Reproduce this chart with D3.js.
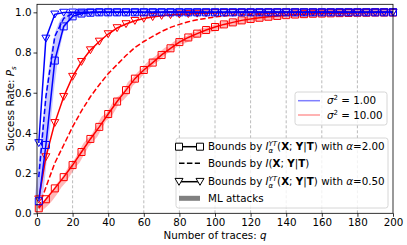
<!DOCTYPE html>
<html lang="en">
<head>
<meta charset="UTF-8">
<script src="https://d3js.org/d3.v7.min.js"></script>
<style>
  body { margin: 0; background: #fff; }
  svg { font-family: "DejaVu Sans", sans-serif; }
</style>
</head>
<body>
<div id="chart"></div>
<script>
// number of traces where the bound curves are sampled
const traces = [1, 5, 10, 15, 20, 25, 30, 35, 40, 45, 50, 55, 60, 65, 70, 75, 80, 85, 90, 95, 100,
  105, 110, 115, 120, 125, 130, 135, 140, 145, 150, 155, 160, 165, 170, 175, 180, 185, 190, 195, 200];
// the ML attack runs are sampled more finely
const mlTraces = [1, 2.5, 5, 7.5, 10, 12.5, 15, 17.5, 20, 22.5, 25, 27.5, 30, 32.5, 35, 37.5, 40, 42.5,
  45, 47.5, 50, 52.5, 55, 57.5, 60, 62.5, 65, 67.5, 70, 72.5, 75, 77.5, 80, 82.5, 85, 87.5, 90, 92.5,
  95, 97.5, 100, 105, 110, 115, 120, 125, 130, 135, 140, 145, 150, 155, 160, 165, 170, 175, 180, 185,
  190, 195, 200];

// sigma^2 = 1.00 (blue)
const blueAlpha2 = [0.06, 0.34, 0.76, 0.93, 0.98, 0.994, 0.998, 1, 1, 1, 1, 1, 1, 1, 1, 1, 1, 1, 1, 1, 1,
  1, 1, 1, 1, 1, 1, 1, 1, 1, 1, 1, 1, 1, 1, 1, 1, 1, 1, 1, 1];
const blueMI = [0.18, 0.58, 0.88, 0.97, 0.994, 0.999, 1, 1, 1, 1, 1, 1, 1, 1, 1, 1, 1, 1, 1, 1, 1,
  1, 1, 1, 1, 1, 1, 1, 1, 1, 1, 1, 1, 1, 1, 1, 1, 1, 1, 1, 1];
const blueAlpha05 = [0.35, 0.87, 0.99, 0.999, 1, 1, 1, 1, 1, 1, 1, 1, 1, 1, 1, 1, 1, 1, 1, 1, 1,
  1, 1, 1, 1, 1, 1, 1, 1, 1, 1, 1, 1, 1, 1, 1, 1, 1, 1, 1, 1];
const blueML = [0.08, 0.2, 0.42, 0.63, 0.8, 0.9, 0.955, 0.975, 0.988, 0.994, 0.997, 0.999, 1, 1, 1, 1,
  1, 1, 1, 1, 1, 1, 1, 1, 1, 1, 1, 1, 1, 1, 1, 1, 1, 1, 1, 1, 1, 1, 1, 1, 1, 1, 1, 1, 1, 1, 1, 1, 1,
  1, 1, 1, 1, 1, 1, 1, 1, 1, 1, 1, 1];

// sigma^2 = 10.00 (red)
const redAlpha2 = [0.025, 0.07, 0.124, 0.18, 0.24, 0.305, 0.37, 0.43, 0.494, 0.556, 0.613, 0.67, 0.713,
  0.75, 0.788, 0.821, 0.852, 0.875, 0.894, 0.912, 0.927, 0.94, 0.95, 0.96, 0.967, 0.973, 0.978, 0.982,
  0.986, 0.989, 0.991, 0.993, 0.994, 0.995, 0.996, 0.997, 0.998, 0.998, 0.999, 0.999, 0.999];
const redMI = [0.03, 0.13, 0.25, 0.34, 0.43, 0.51, 0.58, 0.64, 0.695, 0.74, 0.785, 0.825, 0.855, 0.88,
  0.905, 0.925, 0.94, 0.953, 0.963, 0.97, 0.977, 0.982, 0.986, 0.989, 0.991, 0.993, 0.995, 0.996,
  0.997, 0.998, 0.998, 0.999, 0.999, 0.999, 1, 1, 1, 1, 1, 1, 1];
const redAlpha05 = [0.07, 0.28, 0.45, 0.58, 0.68, 0.754, 0.812, 0.855, 0.892, 0.922, 0.942, 0.958, 0.969,
  0.977, 0.983, 0.987, 0.99, 0.992, 0.994, 0.996, 0.997, 0.998, 0.998, 0.999, 0.999, 0.999, 1, 1, 1,
  1, 1, 1, 1, 1, 1, 1, 1, 1, 1, 1, 1];
const redML = [0.02, 0.03, 0.05, 0.075, 0.105, 0.14, 0.165, 0.2, 0.235, 0.26, 0.3, 0.34, 0.365, 0.39,
  0.43, 0.47, 0.485, 0.52, 0.56, 0.575, 0.6, 0.645, 0.665, 0.69, 0.71, 0.735, 0.755, 0.77, 0.79, 0.81,
  0.82, 0.84, 0.855, 0.86, 0.87, 0.885, 0.89, 0.905, 0.91, 0.915, 0.925, 0.94, 0.948, 0.958, 0.965,
  0.972, 0.977, 0.98, 0.986, 0.988, 0.99, 0.993, 0.994, 0.995, 0.997, 0.997, 0.998, 0.999, 0.999, 1, 1];

const xTicks = [0, 20, 40, 60, 80, 100, 120, 140, 160, 180, 200];
const yTicks = [0, 0.2, 0.4, 0.6, 0.8, 1.0];

const fs = 10.3;
const width = 407, height = 245;
const svg = d3.select("#chart").append("svg")
  .attr("width", width)
  .attr("height", height);

const x = d3.scaleLinear().domain([0, 200]).range([37, 393]);
const y = d3.scaleLinear().domain([0, 1.04]).range([213.3, 4.3]);

// vertical grid
svg.append("g")
  .selectAll("line")
  .data(xTicks.slice(1, -1))
  .join("line")
  .attr("x1", d => x(d)).attr("x2", d => x(d))
  .attr("y1", y(0)).attr("y2", y(1.04))
  .attr("stroke", "#a8a8a8")
  .attr("stroke-width", 0.8)
  .attr("stroke-dasharray", "3,2");

const line = (vals, qs) => d3.line()
  .x((d, i) => x(qs[i]))
  .y(d => y(d))(vals);

const plot = svg.append("g");

// ML attacks (thick translucent bands)
plot.append("path").attr("d", line(redML, mlTraces))
  .attr("fill", "none").attr("stroke", "#ff0000").attr("stroke-opacity", 0.28)
  .attr("stroke-width", 6).attr("stroke-linejoin", "round");
plot.append("path").attr("d", line(blueML, mlTraces))
  .attr("fill", "none").attr("stroke", "#0000ff").attr("stroke-opacity", 0.22)
  .attr("stroke-width", 8).attr("stroke-linejoin", "round");

function drawSeries(vals, color, dash, marker) {
  plot.append("path").attr("d", line(vals, traces))
    .attr("fill", "none").attr("stroke", color).attr("stroke-width", 1.5)
    .attr("stroke-dasharray", dash ? "5.5,2.4" : null);
  if (!marker) return;
  plot.append("g").selectAll("path")
    .data(vals)
    .join("path")
    .attr("transform", (d, i) => `translate(${x(traces[i])},${y(d)})`)
    .attr("d", marker === "square" ? "M-3.5,-3.5H3.5V3.5H-3.5Z" : "M-4,-3.3H4L0,3.6Z")
    .attr("fill", "none")
    .attr("stroke", color)
    .attr("stroke-width", 1);
}

drawSeries(redMI, "#ff0000", true);
drawSeries(redAlpha2, "#ff0000", false, "square");
drawSeries(redAlpha05, "#ff0000", false, "tri");
drawSeries(blueMI, "#0000ff", true);
drawSeries(blueAlpha2, "#0000ff", false, "square");
drawSeries(blueAlpha05, "#0000ff", false, "tri");

// axes
const xAxis = svg.append("g")
  .attr("transform", `translate(0,${y(0)})`)
  .call(d3.axisBottom(x).tickValues(xTicks).tickSize(3.5).tickPadding(2).tickFormat(d3.format("d")));
const yAxis = svg.append("g")
  .attr("transform", `translate(${x(0)},0)`)
  .call(d3.axisLeft(y).tickValues(yTicks).tickSize(3.5).tickPadding(2).tickFormat(d3.format(".1f")));
[xAxis, yAxis].forEach(a => {
  a.select(".domain").remove();
  a.selectAll("text").attr("font-size", fs).attr("fill", "#000").attr("font-family", "DejaVu Sans");
  a.selectAll("line").attr("stroke", "#000").attr("stroke-width", 0.8);
});

svg.append("rect")
  .attr("x", x(0)).attr("y", y(1.04))
  .attr("width", x(200) - x(0)).attr("height", y(0) - y(1.04))
  .attr("fill", "none").attr("stroke", "#000").attr("stroke-width", 0.8);

// axis labels
const xl = svg.append("text")
  .attr("x", (x(0) + x(200)) / 2).attr("y", 239)
  .attr("text-anchor", "middle").attr("font-size", fs);
xl.append("tspan").text("Number of traces: ");
xl.append("tspan").attr("font-style", "italic").text("q");

const yl = svg.append("text")
  .attr("transform", `translate(14,${(y(0) + y(1.04)) / 2}) rotate(-90)`)
  .attr("text-anchor", "middle").attr("font-size", fs);
yl.append("tspan").text("Success Rate: ");
yl.append("tspan").attr("font-style", "italic").text("P");
yl.append("tspan").attr("font-style", "italic").attr("font-size", 7).attr("dy", 2).text("s");

// legend: noise levels
const leg1 = svg.append("g");
leg1.append("rect")
  .attr("x", 295).attr("y", 92).attr("width", 92).attr("height", 33).attr("rx", 2.5)
  .attr("fill", "#fff").attr("fill-opacity", 0.8).attr("stroke", "#cccccc").attr("stroke-width", 0.8);
const sigmaRows = [["1.00", "#0000ff", 0.5, 100.7], ["10.00", "#ff0000", 0.4, 115]];
sigmaRows.forEach(([lab, color, op, yy]) => {
  leg1.append("line").attr("x1", 298).attr("x2", 320).attr("y1", yy).attr("y2", yy)
    .attr("stroke", color).attr("stroke-opacity", op).attr("stroke-width", 1.5);
  const t = leg1.append("text").attr("x", 327).attr("y", yy + 3.5).attr("font-size", fs);
  t.append("tspan").attr("font-style", "italic").text("σ");
  t.append("tspan").attr("font-size", 7).attr("dy", -4).text("2");
  t.append("tspan").attr("dy", 4).text(" = " + lab);
});

// legend: bound types
const leg2 = svg.append("g");
leg2.append("rect")
  .attr("x", 176).attr("y", 138).attr("width", 212).attr("height", 70).attr("rx", 2.5)
  .attr("fill", "#fff").attr("fill-opacity", 0.8).attr("stroke", "#cccccc").attr("stroke-width", 0.8);

function mathLabel(t, renyi, alphaTxt) {
  t.append("tspan").text("Bounds by ");
  t.append("tspan").attr("font-style", "italic").text("I");
  if (renyi) {
    const sup = t.append("tspan").attr("font-style", "italic").attr("font-size", 7).attr("dy", -4).text("YT");
    const w = sup.node().getComputedTextLength();
    const sub = t.append("tspan").attr("font-style", "italic").attr("font-size", 7)
      .attr("dx", -w).attr("dy", 6.5).text("α");
    const w2 = sub.node().getComputedTextLength();
    t.append("tspan").attr("dx", Math.max(0, w - w2)).attr("dy", -2.5).text("(");
  } else {
    t.append("tspan").text("(");
  }
  t.append("tspan").attr("font-weight", "bold").text("X");
  t.append("tspan").text("; ");
  t.append("tspan").attr("font-weight", "bold").text("Y");
  t.append("tspan").text("|");
  t.append("tspan").attr("font-weight", "bold").text("T");
  t.append("tspan").text(")");
  if (renyi) {
    t.append("tspan").text(" with ");
    t.append("tspan").attr("font-style", "italic").text("α");
    t.append("tspan").text("=" + alphaTxt);
  }
}

const rows = [
  { y: 146.7, kind: "square", renyi: true, alpha: "2.00" },
  { y: 163.3, kind: "dash", renyi: false },
  { y: 181.7, kind: "tri", renyi: true, alpha: "0.50" },
  { y: 198.3, kind: "ml" }
];
rows.forEach(r => {
  if (r.kind === "ml") {
    leg2.append("line").attr("x1", 179).attr("x2", 200).attr("y1", r.y).attr("y2", r.y)
      .attr("stroke", "#808080").attr("stroke-width", 5);
    leg2.append("text").attr("x", 208).attr("y", r.y + 3.5).attr("font-size", fs).text("ML attacks");
    return;
  }
  leg2.append("line").attr("x1", 179).attr("x2", 200).attr("y1", r.y).attr("y2", r.y)
    .attr("stroke", "#000").attr("stroke-width", 1.5)
    .attr("stroke-dasharray", r.kind === "dash" ? "5.5,2.4" : null);
  if (r.kind !== "dash") {
    leg2.selectAll(null).data([179, 200]).join("path")
      .attr("transform", d => `translate(${d},${r.y})`)
      .attr("d", r.kind === "square" ? "M-3.5,-3.5H3.5V3.5H-3.5Z" : "M-4,-3.3H4L0,3.6Z")
      .attr("fill", "#fff").attr("stroke", "#000").attr("stroke-width", 1);
  }
  const t = leg2.append("text").attr("x", 208).attr("y", r.y + 3.5).attr("font-size", fs);
  mathLabel(t, r.renyi, r.alpha);
});
</script>
</body>
</html>
